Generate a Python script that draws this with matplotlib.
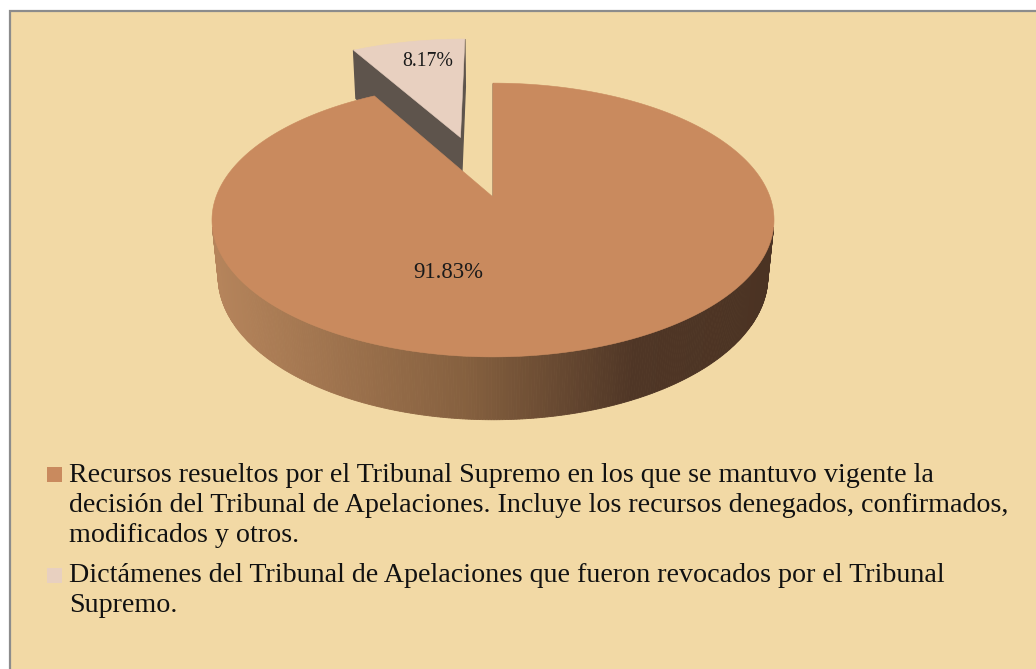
import numpy as np
import matplotlib
matplotlib.use("Agg")
import matplotlib.pyplot as plt
from matplotlib.patches import Polygon, Rectangle
from matplotlib.colors import LinearSegmentedColormap

# ---------------- data ----------------
values = [91.83, 8.17]
pct_labels = ["91.83%", "8.17%"]
legend_text = [
    ["Recursos resueltos por el Tribunal Supremo en los que se mantuvo vigente la",
     "decisión del Tribunal de Apelaciones. Incluye los recursos denegados, confirmados,",
     "modificados y otros."],
    ["Dictámenes del Tribunal de Apelaciones que fueron revocados por el Tribunal",
     "Supremo."],
]
top_colors = ["#C98A5E", "#E8D0C0"]
face_colors = ["#5A3D28", "#5E544C"]
edge_face_colors = ["#5A3D28", "#9C8F86"]
explode = [0.0, 0.5]

# ---------------- layout ----------------
W, H = 1036, 669
BG = "#F2D9A5"
FONT = "Liberation Serif"

fig = plt.figure(figsize=(W / 100, H / 100), dpi=100)
fig.patch.set_facecolor("white")
ax = fig.add_axes([0, 0, 1, 1])
ax.set_xlim(0, W)
ax.set_ylim(H, 0)
ax.axis("off")
ax.add_patch(Rectangle((9.5, 10.5), W + 10, H + 10, facecolor=BG,
                       edgecolor="#8C8C8C", lw=1.6, zorder=0))

# perspective camera for the 3D pie
alpha = np.radians(28.7)
c, s = np.cos(alpha), np.sin(alpha)
D0, f = 5.22, 1446.0
X0, Y0 = 493.0, 197.0
h = 0.235
cam = np.array([0.0, D0 * s, -D0 * c])  # (u, y, v)


def proj(u, v, y):
    u = np.asarray(u, float); v = np.asarray(v, float)
    up = y * c + v * s
    depth = D0 + v * c - y * s
    return X0 + f * u / depth, Y0 - f * up / depth


def visible(p, n):
    return np.dot(cam - np.asarray(p), np.asarray(n)) > 1e-9


wall_cmap = LinearSegmentedColormap.from_list(
    "wall", [(0.0, "#B5845B"), (0.45, "#85603F"), (0.75, "#4F3626"), (1.0, "#4B3323")])
XL, XR = 214.0, 776.0

fracs = np.array(values) / np.sum(values)
slices = []
start = 90.0
for i, fr in enumerate(fracs):
    t0 = start
    t1 = start - 360.0 * fr
    start = t1
    mid = np.radians((t0 + t1) / 2)
    ou, ov = explode[i] * np.cos(mid), explode[i] * np.sin(mid)
    slices.append((i, np.radians(t0), np.radians(t1), ou, ov))

# painter's order: farther slices first
for i, t0, t1, ou, ov in sorted(slices, key=lambda q: -q[4]):
    n = max(int(abs(t1 - t0) / (2 * np.pi) * 720), 20)
    th = np.linspace(t0, t1, n)
    ru, rv = ou + np.cos(th), ov + np.sin(th)
    z = 10 + (1 - ov) * 10

    # outer wall
    xt, yt = proj(ru, rv, 0.0)
    xb, yb = proj(ru, rv, -h)
    for k in range(n - 1):
        tm = 0.5 * (th[k] + th[k + 1])
        p = [ou + np.cos(tm), -h / 2, ov + np.sin(tm)]
        nrm = [np.cos(tm), 0, np.sin(tm)]
        if not visible(p, nrm):
            continue
        xm = 0.5 * (xt[k] + xt[k + 1])
        col = wall_cmap(np.clip((xm - XL) / (XR - XL), 0, 1)) if i == 0 else face_colors[i]
        quad = [(xt[k], yt[k]), (xt[k + 1], yt[k + 1]), (xb[k + 1], yb[k + 1]), (xb[k], yb[k])]
        ax.add_patch(Polygon(quad, closed=True, facecolor=col, edgecolor=col, lw=0.6, zorder=z))

    # radial faces
    for t, nrm in ((t0, [-np.sin(t0), 0, np.cos(t0)]), (t1, [np.sin(t1), 0, -np.cos(t1)])):
        p = [ou + 0.5 * np.cos(t), -h / 2, ov + 0.5 * np.sin(t)]
        d = np.dot(cam - np.array(p), nrm)
        if d < -1e-9:
            continue
        au, av = ou, ov
        eu, ev = ou + np.cos(t), ov + np.sin(t)
        pts = [proj(au, av, 0.0), proj(eu, ev, 0.0), proj(eu, ev, -h), proj(au, av, -h)]
        pts = [(float(a), float(b)) for a, b in pts]
        col = face_colors[i] if d > 0.05 else edge_face_colors[i]
        ax.add_patch(Polygon(pts, closed=True, facecolor=col, edgecolor=col, lw=1.0, zorder=z + 0.5))

    # top face
    ax_, ay_ = proj(ou, ov, 0.0)
    poly = [(float(ax_), float(ay_))] + list(zip(xt, yt))
    ax.add_patch(Polygon(poly, closed=True, facecolor=top_colors[i],
                         edgecolor=top_colors[i], lw=0.4, zorder=z + 1))

renderer = fig.canvas.get_renderer()


def fit(text, target_px, base=20.0):
    t = ax.text(0, 0, text, fontsize=base, family=FONT)
    w = t.get_window_extent(renderer).width
    t.remove()
    return base * target_px / w


# percentage labels
pct_pos = [(448, 272), (428, 61)]
pct_w = [70, 51]
for lab, (x, y), wpx in zip(pct_labels, pct_pos, pct_w):
    ax.text(x, y, lab, fontsize=fit(lab, wpx), family=FONT, color="#1A1A1A",
            ha="center", va="center", zorder=40)

# legend
leg_fs = fit(legend_text[0][1], 939)
baselines = [[482, 512, 542], [582, 612]]
sq_top = [467, 568]
for i in range(len(values)):
    ax.add_patch(Rectangle((47, sq_top[i]), 15, 14.5, facecolor=top_colors[i],
                           edgecolor="none", zorder=40))
    for line, yb in zip(legend_text[i], baselines[i]):
        ax.text(69, yb, line, fontsize=leg_fs, family=FONT, color="#111111",
                ha="left", va="baseline", zorder=40)

fig.savefig("out.png", dpi=100, facecolor=fig.get_facecolor())
